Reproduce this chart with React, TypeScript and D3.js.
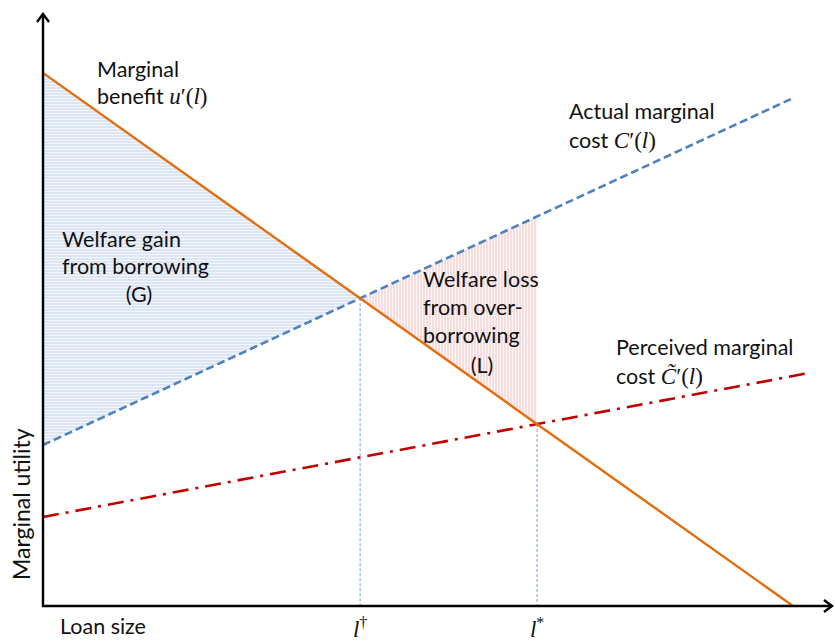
import * as d3 from "d3";

// Loan size l runs 0..10 on the x axis, marginal utility 0..10 on the y axis.
const lineX = [0, 10];
const marginalBenefit = [9.52, 0]; // u'(l)
const actualCost = [2.875, 9.07]; // C'(l)
const perceivedX = [0, 10.21];
const perceivedCost = [1.59, 4.16]; // C~'(l)

const axisLabels = ["Loan size", "Marginal utility"];
const gainLines = ["Welfare gain", "from borrowing", "(G)"];
const lossLines = ["Welfare loss", "from over-", "borrowing", "(L)"];

const WIDTH = 835;
const HEIGHT = 643;

const SANS = "Lato, 'Open Sans', sans-serif";
const SERIF = "'Liberation Serif', 'DejaVu Serif', serif";

type Pt = [number, number];

// straight line through two points -> slope / intercept
const fit = (xs: number[], ys: number[]) => {
  const m = (ys[1] - ys[0]) / (xs[1] - xs[0]);
  return { m, b: ys[0] - m * xs[0] };
};

const cross = (a: { m: number; b: number }, c: { m: number; b: number }) =>
  (c.b - a.b) / (a.m - c.m);

export default function App() {
  const x = d3.scaleLinear().domain([0, 10]).range([43, 793]);
  const y = d3.scaleLinear().domain([0, 10]).range([606, 46]);

  const benefit = fit(lineX, marginalBenefit);
  const actual = fit(lineX, actualCost);
  const perceived = fit(perceivedX, perceivedCost);

  const lDagger = cross(benefit, actual);
  const lStar = cross(benefit, perceived);
  const at = (f: { m: number; b: number }, v: number) => f.m * v + f.b;

  const line = d3
    .line<Pt>()
    .x((d) => x(d[0]))
    .y((d) => y(d[1]));

  const gainArea: Pt[] = [
    [0, at(benefit, 0)],
    [lDagger, at(benefit, lDagger)],
    [0, at(actual, 0)],
  ];
  const lossArea: Pt[] = [
    [lDagger, at(actual, lDagger)],
    [lStar, at(actual, lStar)],
    [lStar, at(benefit, lStar)],
  ];

  const x0 = x(0);
  const y0 = y(0);

  return (
    <svg
      width={WIDTH}
      height={HEIGHT}
      style={{ position: "absolute", left: 0, top: 0, background: "#fff" }}
    >
      <defs>
        <pattern id="hatchH" width={6} height={3} patternUnits="userSpaceOnUse">
          <rect width={6} height={3} fill="#f4f7fc" />
          <line x1={0} x2={6} y1={1} y2={1} stroke="#c3d3ea" strokeWidth={1} />
        </pattern>
        <pattern id="hatchV" width={3} height={6} patternUnits="userSpaceOnUse">
          <rect width={3} height={6} fill="#fdf6f6" />
          <line x1={1} x2={1} y1={0} y2={6} stroke="#f2c6c6" strokeWidth={1} />
        </pattern>
      </defs>

      {/* shaded welfare areas */}
      <path d={line(gainArea) + "Z"} fill="url(#hatchH)" />
      <path d={line(lossArea) + "Z"} fill="url(#hatchV)" />

      {/* drop lines to l-dagger and l-star */}
      <line
        x1={x(lDagger)}
        x2={x(lDagger)}
        y1={y(at(benefit, lDagger))}
        y2={y0}
        stroke="#8fb0dc"
        strokeWidth={1.2}
        strokeDasharray="3,2"
      />
      <line
        x1={x(lStar)}
        x2={x(lStar)}
        y1={y(at(benefit, lStar))}
        y2={y0}
        stroke="#8fb0dc"
        strokeWidth={1.2}
        strokeDasharray="3,2"
      />

      {/* curves */}
      <path
        d={line([
          [perceivedX[0], perceivedCost[0]],
          [perceivedX[1], perceivedCost[1]],
        ])!}
        fill="none"
        stroke="#c00000"
        strokeWidth={2.6}
        strokeDasharray="16,7,3,7"
      />
      <path
        d={line([
          [lineX[0], actualCost[0]],
          [lineX[1], actualCost[1]],
        ])!}
        fill="none"
        stroke="#4f81bd"
        strokeWidth={2.6}
        strokeDasharray="8,4"
      />
      <path
        d={line([
          [lineX[0], marginalBenefit[0]],
          [lineX[1], marginalBenefit[1]],
        ])!}
        fill="none"
        stroke="#e46c0a"
        strokeWidth={2.4}
      />

      {/* axes with open arrow heads */}
      <g stroke="#000" strokeWidth={2.4} fill="none">
        <line x1={x0} x2={x0} y1={y0 + 1} y2={14} />
        <line x1={x0 - 1} x2={832} y1={y0} y2={y0} />
        <polyline points={`${x0 - 6},${22} ${x0},${14} ${x0 + 6},${22}`} />
        <polyline points={`824,${y0 - 6} 832,${y0} 824,${y0 + 6}`} />
      </g>

      {/* axis titles */}
      <text x={60} y={634} fontFamily={SANS} fontSize={21.5} fill="#111">
        {axisLabels[0]}
      </text>
      <text
        transform="translate(30,580) rotate(-90)"
        fontFamily={SANS}
        fontSize={23}
        fill="#111"
      >
        {axisLabels[1]}
      </text>

      {/* tick labels */}
      <text
        x={x(lDagger)}
        y={637}
        textAnchor="middle"
        fontFamily={SERIF}
        fontSize={23}
        fill="#111"
      >
        <tspan fontStyle="italic">l</tspan>
        <tspan fontSize={16} dy={-9}>
          †
        </tspan>
      </text>
      <text
        x={x(lStar)}
        y={637}
        textAnchor="middle"
        fontFamily={SERIF}
        fontSize={23}
        fill="#111"
      >
        <tspan fontStyle="italic">l</tspan>
        <tspan fontSize={16} dy={-9}>
          *
        </tspan>
      </text>

      {/* curve labels */}
      <g fontFamily={SANS} fontSize={21.5} fill="#111">
        <text x={97} y={77}>
          Marginal
        </text>
        <text x={97} y={104}>
          benefit{" "}
          <tspan fontFamily={SERIF} fontSize={23}>
            <tspan fontStyle="italic">u</tspan>′(<tspan fontStyle="italic">l</tspan>)
          </tspan>
        </text>

        <text x={569} y={119}>
          Actual marginal
        </text>
        <text x={569} y={148}>
          cost{" "}
          <tspan fontFamily={SERIF} fontSize={23}>
            <tspan fontStyle="italic">C</tspan>′(<tspan fontStyle="italic">l</tspan>)
          </tspan>
        </text>

        <text x={616} y={355}>
          Perceived marginal
        </text>
        <text x={616} y={384}>
          cost{" "}
          <tspan fontFamily={SERIF} fontSize={23}>
            <tspan fontStyle="italic">{"C\u0303"}</tspan>′(<tspan fontStyle="italic">l</tspan>)
          </tspan>
        </text>

        <text x={62} y={247}>
          {gainLines[0]}
        </text>
        <text x={62} y={274}>
          {gainLines[1]}
        </text>
        <text x={139} y={302} textAnchor="middle">
          {gainLines[2]}
        </text>

        <text x={423} y={287}>
          {lossLines[0]}
        </text>
        <text x={423} y={315}>
          {lossLines[1]}
        </text>
        <text x={423} y={343}>
          {lossLines[2]}
        </text>
        <text x={482} y={373} textAnchor="middle">
          {lossLines[3]}
        </text>
      </g>
    </svg>
  );
}
